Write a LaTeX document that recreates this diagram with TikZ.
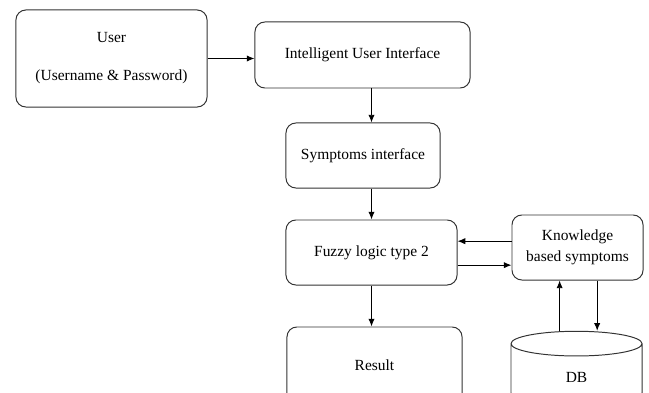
\documentclass[tikz,border=0pt]{standalone}
\usepackage{fontspec}
\setmainfont{Liberation Serif}
\usepackage{tikz}
\usetikzlibrary{arrows.meta,shapes.geometric,positioning,calc}

\begin{document}
\begin{tikzpicture}[x=0.025cm, y=-0.025cm,
    box/.style={draw=black!80, rounded corners=7pt, align=center, font=\fontsize{11}{13}\selectfont, line width=0.7pt},
    arr/.style={-{Latex[length=5.5pt,width=4.5pt]}, line width=0.7pt}
]
\useasboundingbox (0,0) rectangle (649,393);
\clip (0,0) rectangle (649,393);

\node[box, minimum width=4.775cm, minimum height=2.425cm] (user) at (111.5,58.5) {User\\[14pt](Username \& Password)};
\node[box, minimum width=5.375cm, minimum height=1.65cm] (iui) at (362.5,55) {Intelligent User Interface};
\node[box, minimum width=3.85cm, minimum height=1.625cm] (symp) at (363,155.5) {Symptoms interface};
\node[box, minimum width=4.275cm, minimum height=1.625cm] (fuzzy) at (371.5,252.5) {Fuzzy logic type 2};
\node[box, minimum width=3.275cm, minimum height=1.625cm] (know) at (577.5,247.5) {Knowledge\\[2pt]based symptoms};
\node[box, minimum width=4.375cm, minimum height=1.9cm] (result) at (374.5,365) {Result};
\node[draw=black!80, line width=0.7pt, cylinder, shape border rotate=90, aspect=0.8, minimum width=3.275cm, minimum height=1.85cm, font=\fontsize{11}{13}\selectfont] (db) at (576.5,377) {DB};

\draw[arr] (user.east) -- (user.east -| iui.west);
\draw[arr] (iui.south -| fuzzy) -- (symp.north -| fuzzy);
\draw[arr] (symp.south -| fuzzy) -- (fuzzy.north);
\draw[arr] (fuzzy.south) -- (result.north -| fuzzy.south);
\draw[arr] ([yshift=4.5pt]know.west) -- ([yshift=4.5pt]know.west -| fuzzy.east);
\draw[arr] ([yshift=-9pt]fuzzy.east) -- ([yshift=-9pt]fuzzy.east -| know.west);
\draw[arr] ([xshift=-12pt]db.north) -- ([xshift=-12pt]db.north |- know.south);
\draw[arr] ([xshift=14pt]know.south) -- ([xshift=14pt]know.south |- db.north);
\end{tikzpicture}
\end{document}
